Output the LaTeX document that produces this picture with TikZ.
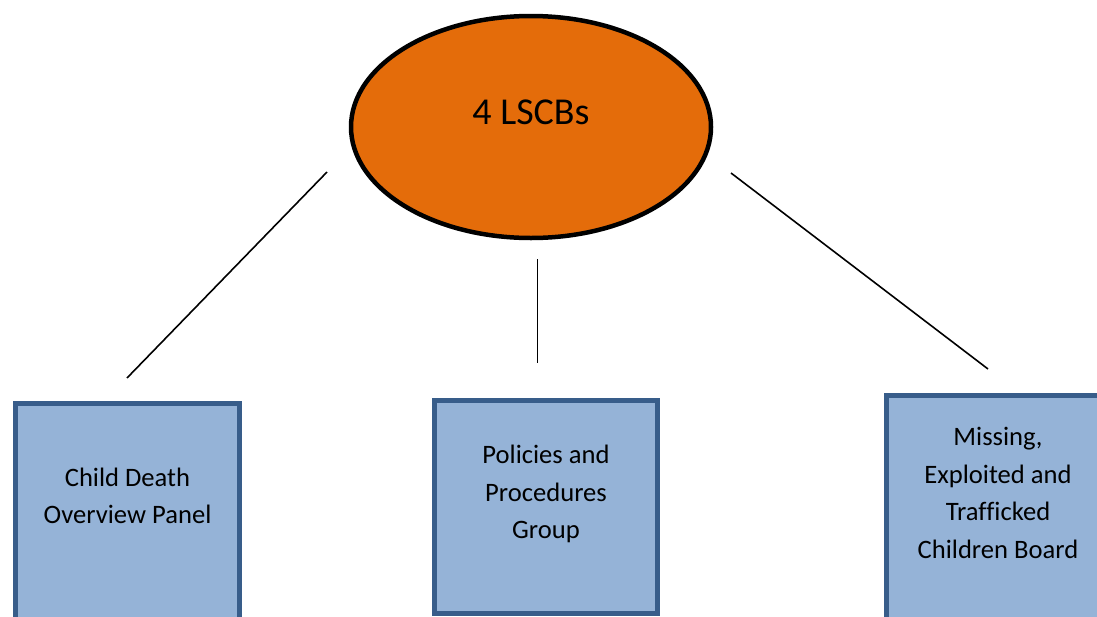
\documentclass[tikz,border=0pt]{standalone}
\usepackage{fontspec}
\setmainfont{Carlito}[Ligatures=NoCommon]
\usepackage{xcolor}
\usetikzlibrary{shapes.geometric,positioning}
\definecolor{BoardOrange}{HTML}{E46C0A}
\definecolor{PanelBlue}{HTML}{95B3D7}
\definecolor{PanelEdge}{HTML}{385D8A}

\begin{document}
\begin{tikzpicture}[
    x=1pt, y=-1pt,
    board/.style  = {ellipse, draw=black, line width=4.5pt,
                     fill=BoardOrange, inner sep=0pt,
                     minimum width=360pt, minimum height=222pt,
                     font=\fontsize{38}{42}\selectfont},
    panel/.style  = {rectangle, draw=PanelEdge, line width=5pt,
                     fill=PanelBlue, inner sep=0pt,
                     minimum width=224pt},
    paneltext/.style = {align=center, inner sep=0pt,
                     font=\fontsize{26.6}{37.5}\selectfont},
    link/.style   = {line width=1.6pt, black},
]
\useasboundingbox (0,0) rectangle (1097,616);
\clip (0,0) rectangle (1097,616);

% ─── Top: the boards ─────────────────────────────────────────────────────
\node[board] (lscb) at (531,127) {\raisebox{30pt}{4 LSCBs}};

% ─── Sub-groups ──────────────────────────────────────────────────────────
\node[panel, minimum height=237pt] (cdop) at (127.5,521.5) {};
\node[paneltext] (cdop_t) at (127.5,496)
    {Child Death\\Overview Panel};

\node[panel, minimum width=223pt, minimum height=212.5pt] (ppg) at (546,506.75) {};
\node[paneltext] (ppg_t) at (546,494)
    {Policies and\\Procedures\\Group};

\node[panel, minimum width=223pt, minimum height=244.5pt] (metcb) at (998,517.75) {};
\node[paneltext] (metcb_t) at (998,493)
    {Missing,\\Exploited and\\Trafficked\\Children Board};

% ─── Links (free-standing, not touching the shapes) ──────────────────────
\coordinate (l1a) at (327,172);
\coordinate (l1b) at (127,378);
\coordinate (l2a) at (537.5,259);
\coordinate (l2b) at (537.5,363);
\coordinate (l3a) at (731,173);
\coordinate (l3b) at (988,369);

\draw[link] (l1a) -- (l1b);
\draw[link] (l2a) -- (l2b);
\draw[link] (l3a) -- (l3b);

\end{tikzpicture}
\end{document}
